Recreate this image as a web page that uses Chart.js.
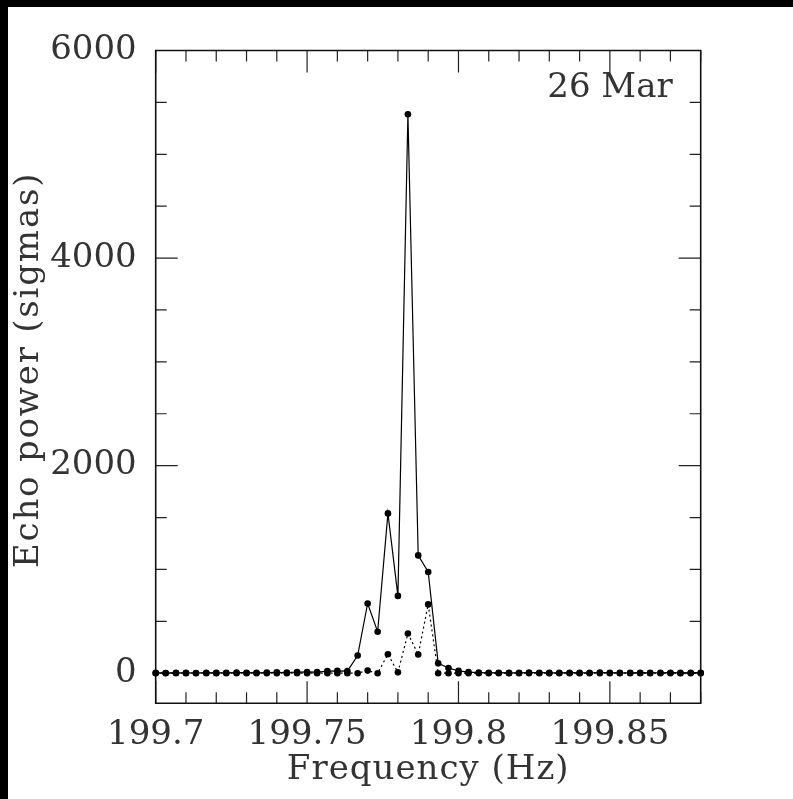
<!DOCTYPE html>
<html>
<head>
<meta charset="utf-8">
<script src="https://cdn.jsdelivr.net/npm/chart.js@4.4.1/dist/chart.umd.min.js"></script>
<style>
  html, body { margin: 0; padding: 0; background: #000; }
  #wrap { position: absolute; left: 8px; top: 7px; width: 785px; height: 792px; background: #fff; }
</style>
</head>
<body>
<div id="wrap"><canvas id="echoChart" width="785" height="792"></canvas></div>
<script>
// Frecuencias (Hz), una cada 1/300 Hz
const freqs = [
  199.7000, 199.7033, 199.7067, 199.7100, 199.7133, 199.7167, 199.7200, 199.7233, 199.7267, 199.7300,
  199.7333, 199.7367, 199.7400, 199.7433, 199.7467, 199.7500, 199.7533, 199.7567, 199.7600, 199.7633,
  199.7667, 199.7700, 199.7733, 199.7767, 199.7800, 199.7833, 199.7867, 199.7900, 199.7933, 199.7967,
  199.8000, 199.8033, 199.8067, 199.8100, 199.8133, 199.8167, 199.8200, 199.8233, 199.8267, 199.8300,
  199.8333, 199.8367, 199.8400, 199.8433, 199.8467, 199.8500, 199.8533, 199.8567, 199.8600, 199.8633,
  199.8667, 199.8700, 199.8733, 199.8767, 199.8800
];

// Potencia total (línea continua)
const powerSolid = [
  3, 2, 4, 3, 2, 5, 3, 4, 6, 5,
  4, 6, 8, 7, 10, 12, 10, 20, 22, 20,
  170, 672, 400, 1540, 745, 5385, 1135, 975, 95, 50,
  22, 10, 6, 4, 5, 3, 4, 6, 5, 3,
  4, 5, 3, 4, 6, 5, 3, 4, 5, 3,
  4, 5, 3, 4, 5
];

// Segunda componente (línea punteada)
const powerDotted = [
  0, 0, 0, 0, 0, 0, 0, 0, 0, 0,
  0, 0, 0, 0, 0, 0, 0, 0, 0, 0,
  0, 25, 0, 183, 8, 383, 180, 663, 0, 0,
  0, 0, 0, 0, 0, 0, 0, 0, 0, 0,
  0, 0, 0, 0, 0, 0, 0, 0, 0, 0,
  0, 0, 0, 0, 0
];

const xTicks = [199.7, 199.75, 199.8, 199.85];
const yTicks = [0, 2000, 4000, 6000];

const FAMILY = '"DejaVu Serif", serif';
const FONT = { family: FAMILY, size: 34, lineHeight: 1 };
const INK = '#333';

// Marco, marcas hacia adentro y textos
const frameAndText = {
  id: 'frameAndText',
  beforeDatasetsDraw(chart) {
    const { ctx, chartArea: a, scales: { x, y } } = chart;
    ctx.save();
    ctx.strokeStyle = '#222';
    ctx.lineWidth = 1.2;
    ctx.beginPath();
    for (let k = 0; k <= 18; k++) {
      const px = x.getPixelForValue(199.7 + k * 0.01);
      const len = k % 5 === 0 ? 22 : 11;
      ctx.moveTo(px, a.bottom); ctx.lineTo(px, a.bottom - len);
      ctx.moveTo(px, a.top); ctx.lineTo(px, a.top + len);
    }
    for (let v = 0; v <= 6000; v += 500) {
      const py = y.getPixelForValue(v);
      const len = v % 2000 === 0 ? 22 : 11;
      ctx.moveTo(a.left, py); ctx.lineTo(a.left + len, py);
      ctx.moveTo(a.right, py); ctx.lineTo(a.right - len, py);
    }
    ctx.stroke();

    ctx.lineWidth = 1.6;
    ctx.strokeStyle = '#111';
    ctx.beginPath();
    ctx.moveTo(a.left, a.top); ctx.lineTo(a.right, a.top);
    ctx.lineTo(a.right, a.bottom); ctx.lineTo(a.left, a.bottom);
    ctx.closePath();
    ctx.stroke();

    ctx.fillStyle = INK;
    ctx.font = '34px ' + FAMILY;
    ctx.textBaseline = 'middle';

    // Fecha
    ctx.textAlign = 'right';
    ctx.fillText('26 Mar', a.right - 28, a.top + 37.5);

    // Título eje X
    ctx.textAlign = 'center';
    ctx.letterSpacing = '1px';
    ctx.fillText('Frequency (Hz)', (a.left + a.right) / 2, 763);

    // Título eje Y
    ctx.letterSpacing = '1.8px';
    ctx.translate(21, (a.top + a.bottom) / 2 - 7);
    ctx.rotate(-Math.PI / 2);
    ctx.fillText('Echo power (sigmas)', 0, 0);
    ctx.restore();
  }
};

const ctx = document.getElementById('echoChart').getContext('2d');

new Chart(ctx, {
  type: 'line',
  data: {
    datasets: [
      {
        label: 'Total',
        data: freqs.map((f, i) => ({ x: f, y: powerSolid[i] })),
        borderColor: '#000',
        backgroundColor: '#000',
        borderWidth: 1.2,
        pointRadius: 3.3,
        pointBorderWidth: 0,
        tension: 0,
        clip: false,
        order: 1
      },
      {
        label: 'Componente',
        data: freqs.map((f, i) => ({ x: f, y: powerDotted[i] })),
        borderColor: '#000',
        backgroundColor: '#000',
        borderWidth: 1.2,
        borderDash: [2, 3],
        pointRadius: 3.3,
        pointBorderWidth: 0,
        tension: 0,
        clip: false,
        order: 2
      }
    ]
  },
  options: {
    responsive: false,
    maintainAspectRatio: false,
    animation: false,
    events: [],
    layout: { padding: { left: 0, top: 43.5, right: 92.3, bottom: 0 } },
    plugins: {
      legend: { display: false },
      tooltip: { enabled: false }
    },
    scales: {
      x: {
        type: 'linear',
        min: 199.7,
        max: 199.88,
        grid: { display: false, drawTicks: false },
        border: { display: false },
        afterBuildTicks: s => { s.ticks = xTicks.map(v => ({ value: v })); },
        afterFit: s => { s.height = 95.7; },
        ticks: {
          color: INK,
          font: FONT,
          padding: 15,
          maxRotation: 0,
          autoSkip: false,
          callback: v => String(v)
        }
      },
      y: {
        min: -290,
        max: 6000,
        grid: { display: false, drawTicks: false },
        border: { display: false },
        afterBuildTicks: s => { s.ticks = yTicks.map(v => ({ value: v })); },
        afterFit: s => { s.width = 147.7; },
        ticks: {
          color: INK,
          font: FONT,
          padding: 19,
          autoSkip: false,
          callback: v => String(v)
        }
      }
    }
  },
  plugins: [frameAndText]
});
</script>
</body>
</html>
